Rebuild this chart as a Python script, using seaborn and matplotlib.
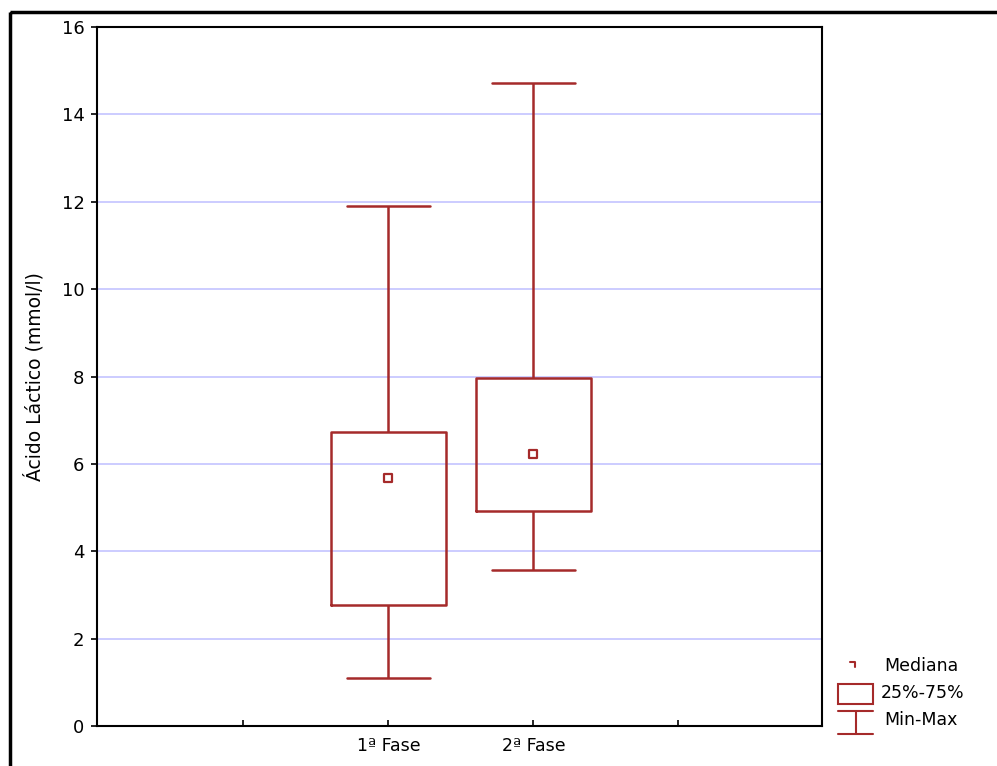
#!/usr/bin/env python3
# Box plot of lactic acid (min-max whiskers, 25-75% box, median marker) per phase

import numpy as np
import pandas as pd
import matplotlib
matplotlib.use("Agg")
import matplotlib.pyplot as plt
from matplotlib.patches import Rectangle
import seaborn as sns

# values
fases = ["1ª Fase", "2ª Fase"]
minimo = [1.10, 3.57]
q1 = [2.77, 4.92]
mediana = [5.68, 6.22]
q3 = [6.73, 7.96]
maximo = [11.90, 14.71]

y_ticks = [0, 2, 4, 6, 8, 10, 12, 14, 16]

RED = "#A52A2A"
GRID = "#C8C8FF"

# five-number summary per phase -> long form, boxplot with whis=(0, 100)
rows = []
for i, f in enumerate(fases):
    for v in (minimo[i], q1[i], mediana[i], q3[i], maximo[i]):
        rows.append({"fase": f, "valor": v})
df = pd.DataFrame(rows)
df_med = pd.DataFrame({"fase": fases, "valor": mediana})

sns.set_theme(style="white")
plt.rcParams["font.family"] = ["DejaVu Sans"]
plt.rcParams["text.color"] = "black"
plt.rcParams["axes.labelcolor"] = "black"

fig = plt.figure(figsize=(9.97, 7.66), dpi=100)
ax = fig.add_axes([97 / 997, 40 / 766, 725 / 997, 699 / 766])

sns.boxplot(data=df, x="fase", y="valor", order=fases, whis=(0, 100),
            width=0.79, fill=False, color=RED, linewidth=1.8,
            medianprops={"visible": False}, ax=ax, zorder=2)

# widen the caps a bit (seaborn's default is narrower)
for ln in ax.lines:
    xd = np.asarray(ln.get_xdata(), dtype=float)
    yd = np.asarray(ln.get_ydata(), dtype=float)
    if len(xd) == 2 and yd[0] == yd[1] and xd[0] != xd[1]:
        c = xd.mean()
        ln.set_xdata([c - 0.285, c + 0.285])

# horizontal grid lines (after the cap fix so they are not touched)
for y in y_ticks[1:-1]:
    ax.axhline(y, color=GRID, lw=1.3, zorder=0)

sns.scatterplot(data=df_med, x="fase", y="valor", marker="s", s=28,
                facecolor="white", edgecolor=RED, linewidth=1.6,
                ax=ax, zorder=3)

ax.set_xlim(-2.01, 2.99)
ax.set_ylim(0, 16)
ax.set_xticks([-1, 0, 1, 2])
ax.set_xticklabels(["", fases[0], fases[1], ""], fontsize=12.5)
ax.set_yticks(y_ticks)
ax.set_yticklabels([str(t) for t in y_ticks], fontsize=13)
ax.set_xlabel("")
ax.set_ylabel("Ácido Láctico (mmol/l)", fontsize=13.5, labelpad=12)
ax.tick_params(axis="x", direction="in", length=4, width=1.2, colors="black", pad=8)
ax.tick_params(axis="y", direction="out", length=4, width=1.2, colors="black", pad=5)
ax.tick_params(left=True, bottom=True)
for s in ax.spines.values():
    s.set_visible(True)
    s.set_color("black")
    s.set_linewidth(1.5)

# overlay axes in pixel coords for the outer frame and the legend
ov = fig.add_axes([0, 0, 1, 1], zorder=5)
ov.set_xlim(0, 997)
ov.set_ylim(766, 0)
ov.axis("off")
ov.patch.set_alpha(0)
ov.add_patch(Rectangle((10, 12), 1100, 900, fill=False, ec="black", lw=2.5))

# legend
ov.plot([850, 855, 855], [662, 662, 667], color=RED, lw=1.5)
ov.add_patch(Rectangle((838, 684), 35, 20, fill=False, ec=RED, lw=1.5))
ov.plot([838, 873], [711, 711], color=RED, lw=1.5)
ov.plot([855.5, 855.5], [711, 734], color=RED, lw=1.5)
ov.plot([838, 873], [734, 734], color=RED, lw=1.5)
ov.text(884, 666, "Mediana", fontsize=12.5, va="center", ha="left", color="black")
ov.text(881, 693, "25%-75%", fontsize=12.5, va="center", ha="left", color="black")
ov.text(884, 720, "Min-Max", fontsize=12.5, va="center", ha="left", color="black")

fig.savefig("out.png", dpi=100, facecolor="white")
